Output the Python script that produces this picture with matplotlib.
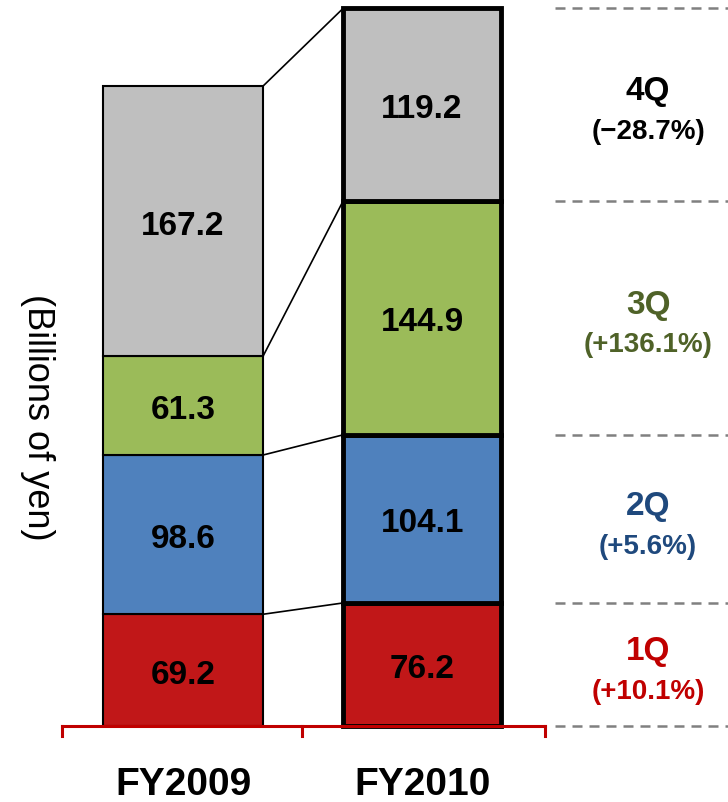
import numpy as np
import matplotlib.pyplot as plt

years = ['FY2009', 'FY2010']
quarters = ['1Q', '2Q', '3Q', '4Q']
fy2009 = [69.2, 98.6, 61.3, 167.2]
fy2010 = [76.2, 104.1, 144.9, 119.2]
growth = ['(+10.1%)', '(+5.6%)', '(+136.1%)', '(\u221228.7%)']

fills = ['#C11718', '#4F81BD', '#9BBB59', '#BFBFBF']
qcolors = ['#C00000', '#1F497D', '#4F6228', '#000000']

plt.rcParams['font.family'] = ['Liberation Sans', 'DejaVu Sans']

fig = plt.figure(figsize=(7.28, 8.03), dpi=100)
ax = fig.add_axes([0, 0, 1, 1])
ax.set_xlim(-0.766, 2.280)
ax.set_ylim(-47.06, 450.15)
ax.axis('off')

x = np.arange(2)
w = [0.67, 0.66]
data = [fy2009, fy2010]
lws = [1.5, 3.5]

for i in range(2):
	bottom = 0
	for q in range(4):
		v = data[i][q]
		ax.bar(x[i], v, w[i], bottom=bottom, color=fills[q], edgecolor='black',
			linewidth=lws[i], zorder=3 if i == 0 else 4)
		ax.text(x[i], bottom + v / 2 - 2.5, f'{v:.1f}', ha='center', va='center',
			fontsize=24, fontweight='bold', color='black', zorder=5)
		bottom += v

# connector lines between the segment tops
c09 = np.cumsum(fy2009)
c10 = np.cumsum(fy2010)
for a, b in zip(c09, c10):
	ax.plot([x[0] + w[0] / 2, x[1] - w[1] / 2], [a, b], color='black', lw=1.2, zorder=2)

# dashed guides and quarter labels on the right
edges = np.concatenate([[0], c10])
for e in edges:
	ax.plot([1.556, 2.28], [e, e], color='#808080', lw=1.8, ls=(0, (4, 2.8)), zorder=1)
for q in range(4):
	mid = (edges[q] + edges[q + 1]) / 2
	ax.text(1.946, mid + 8.5, quarters[q], ha='center', va='center',
		fontsize=24, fontweight='bold', color=qcolors[q])
	ax.text(1.946, mid - 16.5, growth[q], ha='center', va='center',
		fontsize=20, fontweight='bold', color=qcolors[q])

# red baseline with bracket ticks
ax.plot([-0.506, 1.515], [0, 0], color='#C00000', lw=2.2, zorder=6)
for t in [-0.506, 0.498, 1.515]:
	ax.plot([t, t], [0, -6], color='#C00000', lw=2.2, zorder=6)

for i in range(2):
	ax.text(x[i], -36, years[i], ha='center', va='center', fontsize=28, fontweight='bold')

ax.text(-0.611, 192, '(Billions of yen)', rotation=-90, ha='center', va='center',
	fontsize=26)

plt.savefig('out.png', dpi=100)
